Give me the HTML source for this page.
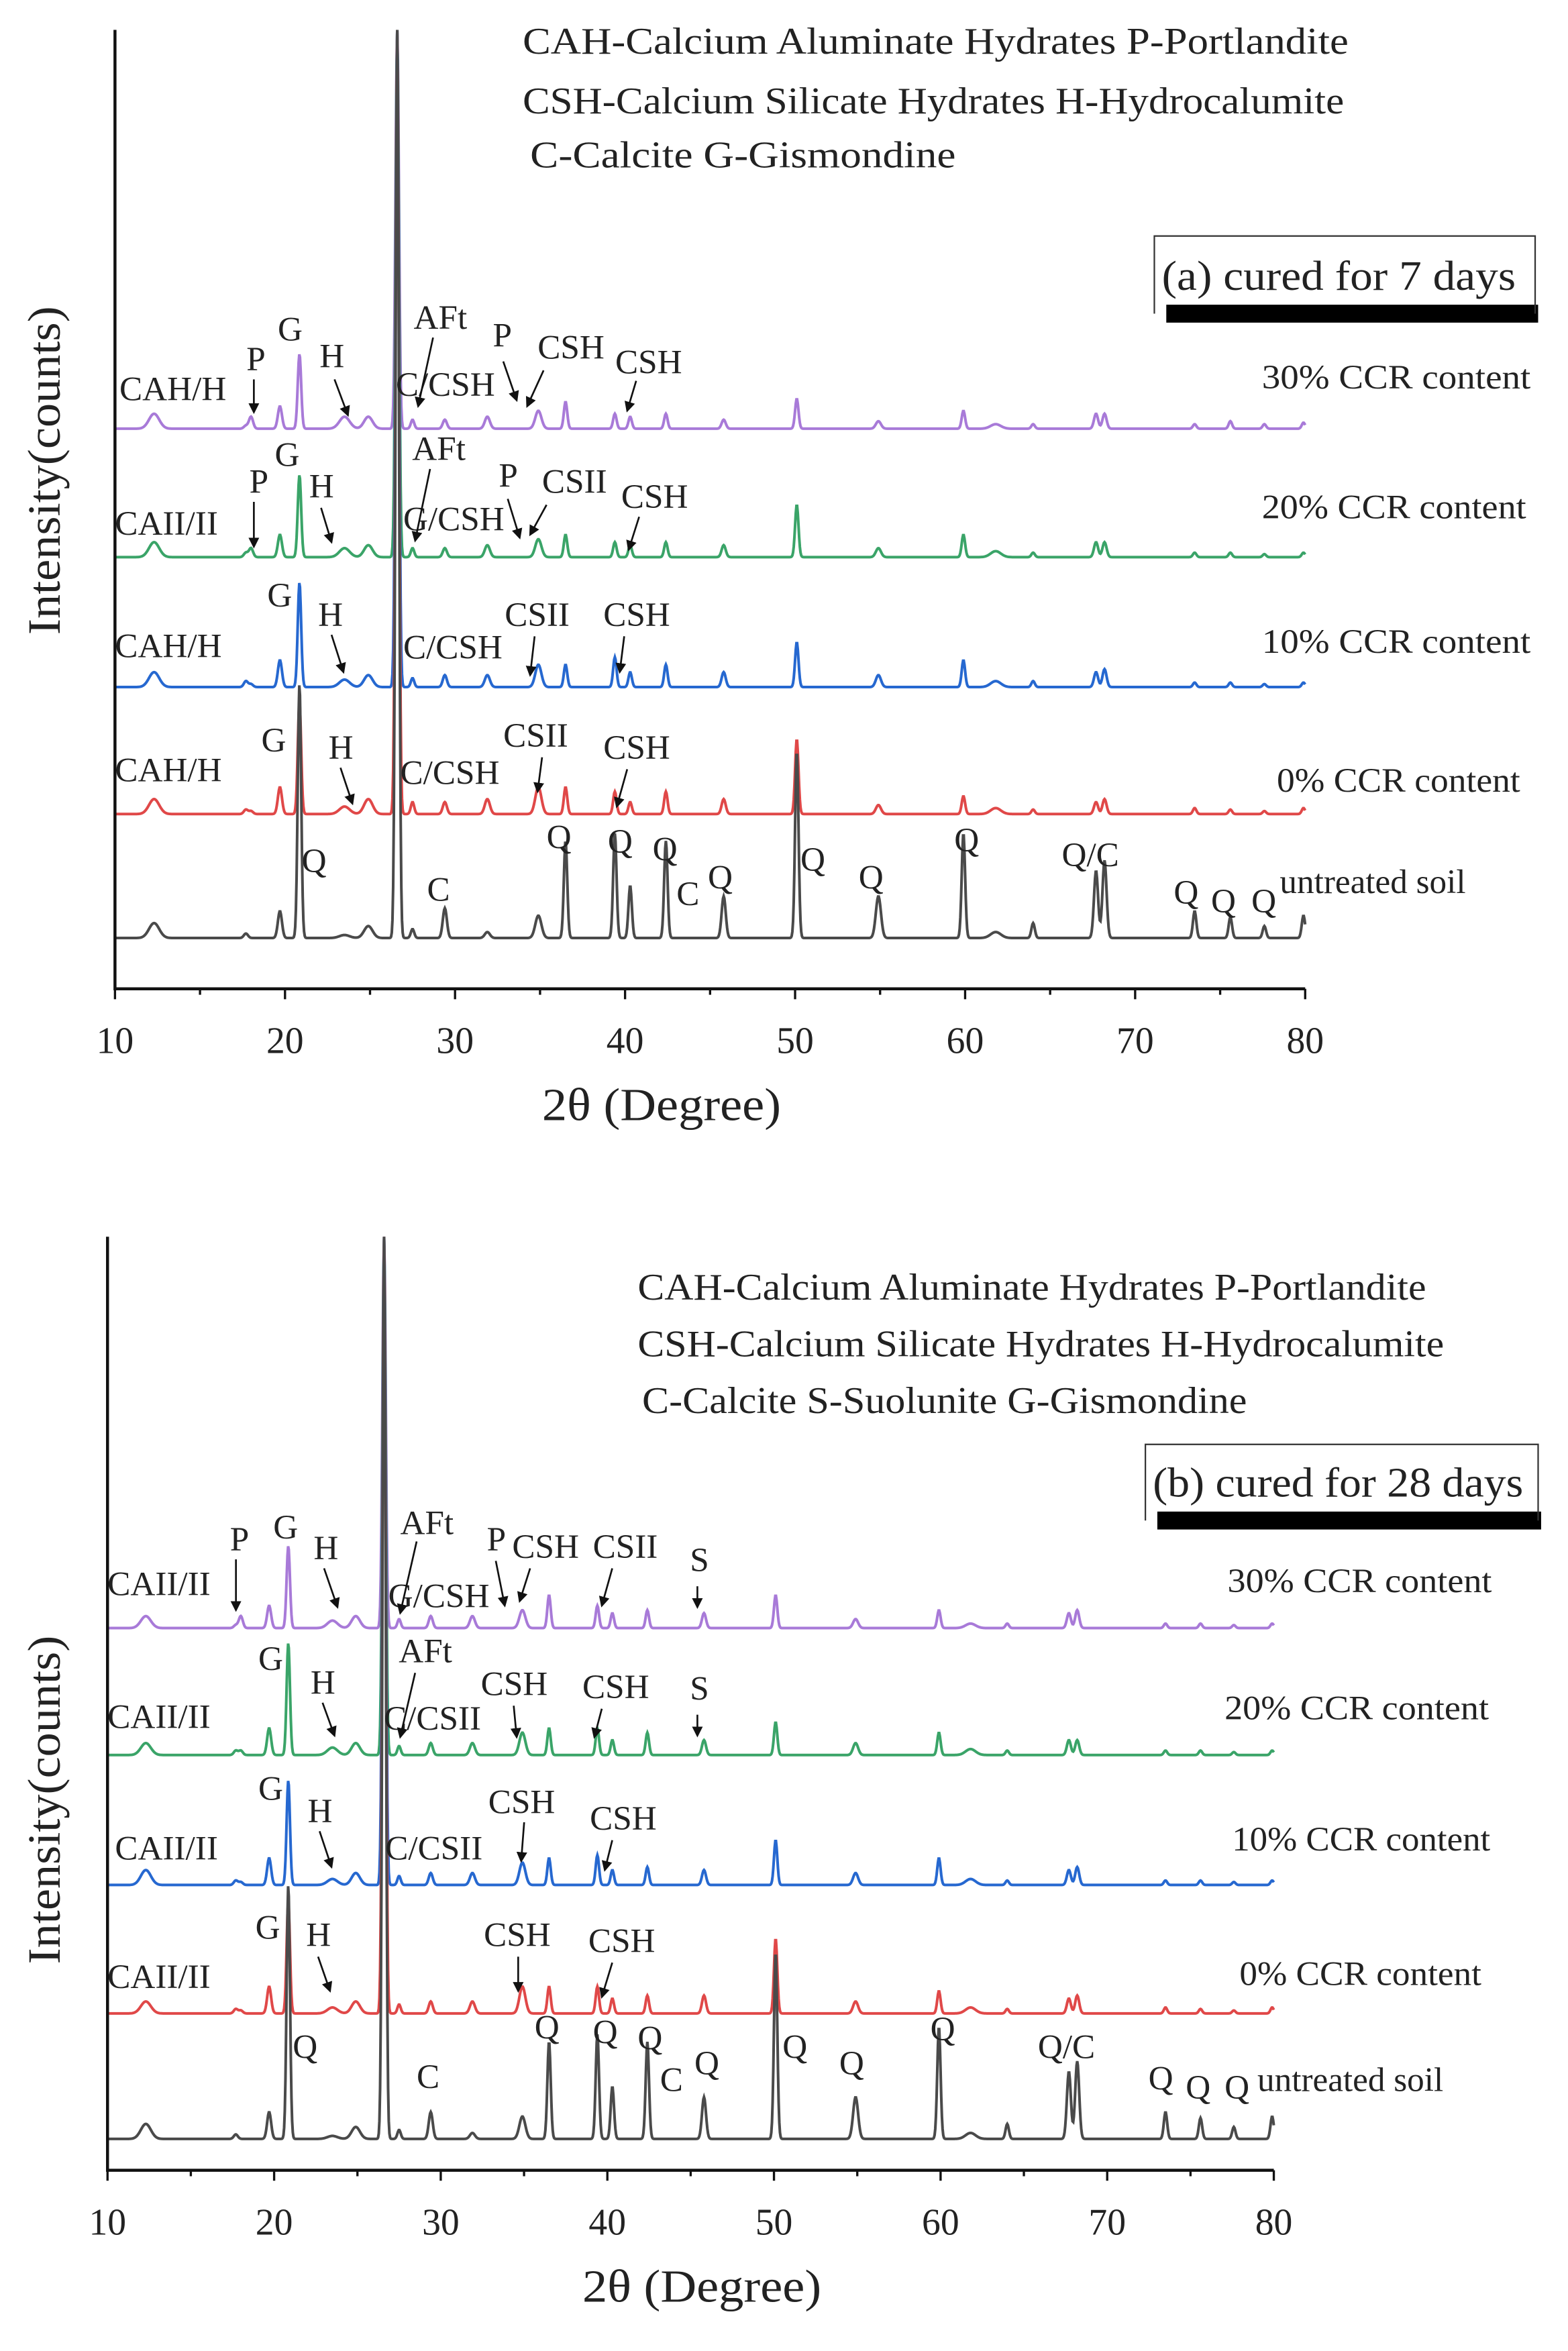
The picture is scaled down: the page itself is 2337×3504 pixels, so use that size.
<!DOCTYPE html>
<html><head><meta charset="utf-8"><style>
html,body{margin:0;padding:0;background:#fff;}
svg{display:block;}
text{font-family:"Liberation Serif",serif;fill:#222;}
</style></head><body>
<svg id="chart" width="2337" height="3504" viewBox="0 0 1050 1574" preserveAspectRatio="none" xmlns="http://www.w3.org/2000/svg">
<defs><marker id="ah" markerWidth="6" markerHeight="6" refX="5" refY="3" orient="auto"><path d="M0,0 L6,3 L0,6 z" fill="#111"/></marker></defs>
<g id="pa"></g>
<g id="pb"></g>
</svg>
<script>
const peakPos=[12.3,17.7,18.0,19.7,20.85,23.5,24.9,26.6,27.5,29.4,31.9,34.9,36.5,39.4,40.3,42.4,45.8,50.1,54.9,59.9,61.8,64.0,67.7,68.2,73.5,75.6,77.6,79.9];
const peakWidth=[0.3,0.12,0.12,0.12,0.1,0.3,0.25,0.1,0.1,0.12,0.15,0.18,0.1,0.1,0.1,0.1,0.12,0.1,0.15,0.1,0.3,0.1,0.12,0.12,0.1,0.1,0.1,0.1];
const seriesNames=["untreated","ccr-0","ccr-10","ccr-20","ccr-30"];
const aUntreated=[10,3,0,18,170,2,8,608,6,20,4,15,65,70,35,65,28,125,28,70,4,10,45,52,18,14,8,15];
const a0=[10,3,2,18,75,5,10,525,8,8,10,18,18,15,8,15,10,50,6,12,4,3,8,10,4,3,2,4];
const a10=[10,4,2,18,70,5,8,440,6,8,8,15,15,20,10,15,10,30,8,18,4,4,10,12,3,3,2,3];
const a20=[10,3,6,15,55,6,8,353,6,6,8,12,15,10,8,10,8,35,6,15,4,3,10,10,3,3,2,3];
const a30=[10,2,8,15,50,8,8,267,6,6,8,12,18,10,8,10,6,20,5,12,3,3,10,10,3,5,3,4];
const bUntreated=[10,3,0,18,170,2,8,604,6,18,4,15,65,70,35,65,28,125,28,75,4,10,45,52,18,14,8,15];
const b0=[8,3,2,18,75,4,8,520,6,8,8,18,18,18,10,12,12,50,8,15,4,3,10,12,4,3,2,4];
const b10=[10,3,2,18,70,4,8,434,6,8,8,15,18,20,10,12,10,30,8,18,4,3,10,12,3,3,2,3];
const b20=[8,3,3,18,75,5,8,347,6,8,8,15,18,18,10,15,10,22,8,15,4,3,10,10,3,3,2,3];
const b30=[8,2,8,15,55,5,8,262,6,8,8,12,22,15,10,12,10,22,6,12,3,3,10,12,3,3,2,3];
const xTicks=[10,20,30,40,50,60,70,80];
const colors=["#4a4a4a","#e04848","#2668d0","#3aa468","#a87ad8"];
const NS="http://www.w3.org/2000/svg";
function mk(p,tag,at,txt){const e=document.createElementNS(NS,tag);for(const k in at)e.setAttribute(k,at[k]);if(txt!==undefined)e.textContent=txt;p.appendChild(e);return e;}
function fit(t,len){t.setAttribute('textLength',len);t.setAttribute('lengthAdjust','spacingAndGlyphs');}
function panel(g,cfg){
  const xs=v=>cfg.x0+(v-10)*(cfg.x1-cfg.x0)/70;
  const sets=cfg.sets;
  for(let s=sets.length-1;s>=0;s--){
    let d="";
    for(let v=10;v<=80.001;v+=0.04){
      let y=cfg.bases[s];
      for(let i=0;i<peakPos.length;i++){const z=(v-peakPos[i])/peakWidth[i];y-=sets[s][i]*Math.exp(-z*z/2);}
      d+=(d?"L":"M")+xs(v).toFixed(2)+","+y.toFixed(2);
    }
    const p=mk(g,"path",{d:d,fill:"none",stroke:colors[s],"stroke-width":1.8});
    
    
  }
  const ax=mk(g,"path",{d:`M${cfg.x0},${cfg.yTop}V${cfg.yAx}H${cfg.x1}`,fill:"none",stroke:"#111","stroke-width":2});
  
  
  for(let v=10;v<=80;v+=5){mk(g,"line",{x1:xs(v),x2:xs(v),y1:cfg.yAx,y2:cfg.yAx+(v%10?4:7),stroke:"#111","stroke-width":1.5});}
  xTicks.forEach(v=>{const t=mk(g,"text",{x:xs(v),y:cfg.yAx+43,"font-size":25,"text-anchor":"middle"},v);
    
    });
  const xt=mk(g,"text",{x:cfg.xTitleX,y:cfg.yAx+88,"font-size":31},"2θ (Degree)");
  fit(xt,160);
  
  
  const yt=mk(g,"text",{x:0,y:0,"font-size":31,"text-anchor":"middle",transform:`translate(40,${cfg.yTitle}) rotate(-90)`},"Intensity(counts)");
  fit(yt,220);
  
  
  cfg.legend.forEach(l=>{const t=mk(g,"text",{x:l[0],y:l[1],"font-size":25},l[2]);fit(t,l[3]);
    
    });
  const b=cfg.box;
  mk(g,"rect",{x:b[0]+8,y:b[3]-6,width:b[2]-b[0]-6,height:12,fill:"#000"});
  mk(g,"path",{d:`M${b[0]},${b[3]}V${b[1]}H${b[2]}V${b[3]}`,fill:"none",stroke:"#333","stroke-width":1});
  const bt=mk(g,"text",{x:b[0]+5,y:b[3]-16,"font-size":28},b[4]);
  fit(bt,b[5]);
  
  
  cfg.labels.forEach(l=>{const t=mk(g,"text",{x:l[0],y:l[1],"font-size":23},l[2]);
    
    });
  cfg.arrows.forEach(a=>{mk(g,"line",{x1:a[0],y1:a[1],x2:a[2],y2:a[3],stroke:"#111","stroke-width":1.2,"marker-end":"url(#ah)"});});
  cfg.series.forEach(l=>{const t=mk(g,"text",{x:l[0],y:l[1],"font-size":23},l[2]);fit(t,l[3]);
    
    });
}
panel(document.getElementById('pa'),{x0:77,x1:874,yTop:20,yAx:662,yTitle:315,xTitleX:363,
 sets:[aUntreated,a0,a10,a20,a30],bases:[628,545,460,373,287],
 legend:[[350,36,"CAH-Calcium Aluminate Hydrates   P-Portlandite",553],[350,76,"CSH-Calcium Silicate Hydrates H-Hydrocalumite",550],[355,112,"C-Calcite   G-Gismondine",285]],
 box:[773,158,1028,210,"(a) cured for 7 days",237],
 labels:[[80,268,"CAH/H"],[165,248,"P"],[186,228,"G"],[214,246,"H"],[277,220,"AFt"],[265,265,"C/CSH"],[330,232,"P"],[360,240,"CSH"],[412,250,"CSH"],
 [77,358,"CAII/II"],[167,330,"P"],[184,312,"G"],[207,333,"H"],[276,308,"AFt"],[270,355,"G/CSH"],[334,326,"P"],[363,330,"CSII"],[416,340,"CSH"],
 [77,440,"CAH/H"],[179,406,"G"],[213,419,"H"],[270,441,"C/CSH"],[338,419,"CSII"],[404,419,"CSH"],
 [77,523,"CAH/H"],[175,503,"G"],[220,508,"H"],[268,525,"C/CSH"],[337,500,"CSII"],[404,508,"CSH"],
 [202,584,"Q"],[286,603,"C"],[366,568,"Q"],[407,571,"Q"],[437,576,"Q"],[453,606,"C"],[474,595,"Q"],[536,583,"Q"],[575,595,"Q"],[639,570,"Q"],[711,580,"Q/C"],[786,605,"Q"],[811,611,"Q"],[838,611,"Q"],[857,598,"untreated soil"]],
 arrows:[[170,254,170,276],[224,254,233,278],[290,226,280,272],[337,242,346,268],[364,248,353,272],[426,255,420,275],
 [170,336,170,366],[215,340,222,363],[288,314,278,362],[340,334,348,360],[366,338,355,358],[428,346,421,368],
 [222,425,230,450],[358,426,355,452],[418,426,415,450],[228,514,236,538],[363,507,360,530],[420,515,413,540]],
 series:[[845,260,"30% CCR content",180],[845,347,"20% CCR content",177],[845,437,"10% CCR content",180],[855,530,"0% CCR content",163]]});
panel(document.getElementById('pb'),{x0:72,x1:853,yTop:828,yAx:1453,yTitle:1205,xTitleX:390,
 sets:[bUntreated,b0,b10,b20,b30],bases:[1432,1348,1262,1175,1090],
 legend:[[427,870,"CAH-Calcium Aluminate Hydrates P-Portlandite",528],[427,908,"CSH-Calcium Silicate Hydrates H-Hydrocalumite",540],[430,946,"C-Calcite S-Suolunite G-Gismondine",405]],
 box:[767,967,1030,1018,"(b) cured for 28 days",248],
 labels:[[72,1068,"CAII/II"],[154,1038,"P"],[183,1030,"G"],[210,1044,"H"],[268,1027,"AFt"],[260,1076,"G/CSH"],[326,1038,"P"],[343,1043,"CSH"],[397,1043,"CSII"],[462,1052,"S"],
 [72,1157,"CAII/II"],[173,1118,"G"],[208,1134,"H"],[267,1113,"AFt"],[257,1158,"C/CSII"],[322,1135,"CSH"],[390,1137,"CSH"],[462,1138,"S"],
 [77,1245,"CAII/II"],[173,1205,"G"],[206,1220,"H"],[258,1245,"C/CSII"],[327,1214,"CSH"],[395,1225,"CSH"],
 [72,1331,"CAII/II"],[171,1298,"G"],[205,1303,"H"],[324,1303,"CSH"],[394,1307,"CSH"],
 [196,1378,"Q"],[279,1398,"C"],[358,1365,"Q"],[397,1368,"Q"],[427,1372,"Q"],[442,1400,"C"],[465,1389,"Q"],[524,1378,"Q"],[562,1389,"Q"],[623,1366,"Q"],[695,1378,"Q/C"],[769,1399,"Q"],[794,1405,"Q"],[820,1405,"Q"],[842,1400,"untreated soil"]],
 arrows:[[158,1044,158,1078],[217,1050,226,1076],[279,1032,268,1080],[332,1045,338,1075],[355,1050,348,1072],[410,1050,403,1075],[467,1062,467,1076],
 [216,1140,224,1162],[278,1120,268,1163],[344,1142,346,1163],[403,1144,398,1163],[467,1148,467,1162],
 [214,1226,222,1250],[351,1220,349,1246],[410,1232,405,1252],[213,1310,221,1333],[347,1310,347,1333],[410,1314,403,1337]],
 series:[[822,1066,"30% CCR content",177],[820,1151,"20% CCR content",177],[825,1239,"10% CCR content",173],[830,1329,"0% CCR content",162]]});
</script>
</body></html>
